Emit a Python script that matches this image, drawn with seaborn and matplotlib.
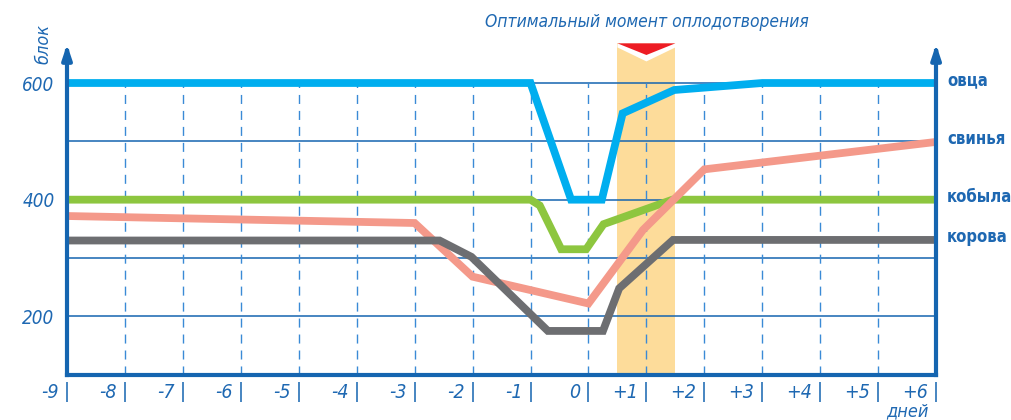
import matplotlib
matplotlib.use("Agg")

import matplotlib.pyplot as plt
import pandas as pd
import seaborn as sns
from matplotlib import font_manager

# ==========================================================
# Data
# ==========================================================

DAYS = [-9, -8, -7, -6, -5, -4, -3, -2, -1, 0, 1, 2, 3, 4, 5, 6]
DAY_LABELS = ["-9", "-8", "-7", "-6", "-5", "-4", "-3", "-2", "-1", "0",
              "+1", "+2", "+3", "+4", "+5", "+6"]

Y_TICKS = [200, 300, 400, 500, 600]
Y_LABELS = ["200", "", "400", "", "600"]

SHEEP_X = [-9, -1.0, -0.3, 0.23, 0.59, 1.48, 3.0, 6]
SHEEP_Y = [600, 600, 400, 400, 548, 588, 600, 600]

PIG_X = [-9, -3.0, -2.0, 0.0, 0.94, 2.0, 6]
PIG_Y = [372, 360, 268, 222, 348, 452, 499]

MARE_X = [-9, -1.0, -0.84, -0.47, -0.04, 0.26, 1.45, 6]
MARE_Y = [400, 400, 390, 315, 315, 358, 400, 400]

COW_X = [-9, -2.57, -2.02, -0.7, 0.25, 0.53, 1.46, 6]
COW_Y = [330, 330, 302, 175, 175, 248, 331, 331]

ANIMALS = ["овца", "свинья", "кобыла", "корова"]
DRAW_ORDER = ["кобыла", "свинья", "корова", "овца"]

PALETTE = {
    "овца": "#00aeef",
    "свинья": "#f4998a",
    "кобыла": "#8dc63f",
    "корова": "#6d6e71",
}

BAND = [0.5, 1.5]
BAND_TOP = 668

TITLE = "Оптимальный момент оплодотворения"
Y_NAME = "блок"
X_NAME = "дней"

Y_MIN = 100
Y_MAX = 670
GRID_TOP = 600

AXIS_BLUE = "#1565b0"
TEXT_BLUE = "#1e68b2"

# ==========================================================
# Fonts
# ==========================================================

sns.set_style("white")

names = {f.name for f in font_manager.fontManager.ttflist}
if "Liberation Sans Narrow" in names:
    FONT = "Liberation Sans Narrow"
elif "DejaVu Sans Condensed" in names:
    FONT = "DejaVu Sans Condensed"
else:
    FONT = "DejaVu Sans"

plt.rcParams["font.family"] = [FONT, "DejaVu Sans"]
plt.rcParams["font.stretch"] = "condensed"

# ==========================================================
# Build table
# ==========================================================

frames = []
for name, xs, ys in [("овца", SHEEP_X, SHEEP_Y),
                     ("свинья", PIG_X, PIG_Y),
                     ("кобыла", MARE_X, MARE_Y),
                     ("корова", COW_X, COW_Y)]:
    frames.append(pd.DataFrame({"day": xs, "value": ys, "animal": name}))
df = pd.concat(frames, ignore_index=True)

# ==========================================================
# Plot
# ==========================================================

fig = plt.figure(figsize=(10.11, 4.2), dpi=100)
ax = fig.add_axes([0.0663, 0.1079, 0.8596, 0.7917])

ax.set_xlim(DAYS[0], DAYS[-1])
ax.set_ylim(Y_MIN, Y_MAX)

# fertilisation window
ax.fill_between(BAND, Y_MIN, BAND_TOP, color="#fddc9a", lw=0,
                zorder=0.2, clip_on=False)
ax.fill([BAND[0], BAND[1], BAND[1], sum(BAND) / 2, BAND[0]],
        [BAND_TOP, BAND_TOP, 661, 637, 661],
        color="white", lw=0, zorder=4, clip_on=False)
ax.fill([BAND[0], BAND[1], sum(BAND) / 2],
        [BAND_TOP, BAND_TOP, 648],
        color="#ed1c24", lw=0, zorder=4.1, clip_on=False)

# grid
ax.set_axisbelow(True)
ax.set_yticks(Y_TICKS)
ax.set_yticklabels(Y_LABELS)
ax.grid(axis="y", color=AXIS_BLUE, linewidth=1.1)
ax.grid(axis="x", visible=False)
ax.vlines(DAYS[1:-1], Y_MIN, GRID_TOP, colors="#3a8ad6", linewidth=1.0,
          linestyles=(0, (6.5, 5)), zorder=0.6)

# series
n_before = len(ax.lines)
sns.lineplot(
    data=df, x="day", y="value", hue="animal",
    hue_order=DRAW_ORDER, palette=PALETTE,
    estimator=None, sort=False, linewidth=5.6,
    legend=False, ax=ax, zorder=3
)
for line in ax.lines[n_before:]:
    line.set_solid_joinstyle("miter")
    line.set_solid_capstyle("butt")

# spines
ax.spines["top"].set_visible(False)
for side in ["left", "right", "bottom"]:
    ax.spines[side].set_color(AXIS_BLUE)
    ax.spines[side].set_linewidth(3.0)
    ax.spines[side].set_zorder(5)
ax.spines["left"].set_bounds(Y_MIN, 655)
ax.spines["right"].set_bounds(Y_MIN, 655)

for xpos in [DAYS[0], DAYS[-1]]:
    ax.annotate(
        "", xy=(xpos, 666), xytext=(xpos, 650),
        arrowprops=dict(arrowstyle="-|>,head_length=0.6,head_width=0.2",
                        mutation_scale=14, color=AXIS_BLUE, lw=3,
                        shrinkA=0, shrinkB=0),
        annotation_clip=False, zorder=6
    )

# ticks
ax.set_xticks([])
ax.tick_params(axis="y", length=0, pad=9, labelsize=13.5,
               labelcolor=TEXT_BLUE)
for lab in ax.get_yticklabels():
    lab.set_fontstyle("italic")
ax.set_xlabel("")
ax.set_ylabel("")

ax.vlines(DAYS, -0.021, -0.081, transform=ax.get_xaxis_transform(),
          colors=AXIS_BLUE, linewidth=1.1, clip_on=False)
for day, label in zip(DAYS, DAY_LABELS):
    ax.annotate(label, xy=(day, 0), xycoords=("data", "axes fraction"),
                xytext=(-8, -18), textcoords="offset pixels",
                ha="right", va="center", fontsize=14, style="italic",
                color=TEXT_BLUE, annotation_clip=False)

# texts
ax.annotate(TITLE, xy=(sum(BAND) / 2, 1), xycoords=("data", "axes fraction"),
            xytext=(0, 20), textcoords="offset pixels",
            ha="center", va="center", fontsize=12.5, style="italic",
            color=TEXT_BLUE, annotation_clip=False)

ax.annotate(Y_NAME, xy=(0, 1), xycoords="axes fraction",
            xytext=(-24, -2), textcoords="offset pixels",
            ha="center", va="center", rotation=90, fontsize=13,
            style="italic", color=TEXT_BLUE)

ax.annotate(X_NAME, xy=(1, 0), xycoords="axes fraction",
            xytext=(-29, -37), textcoords="offset pixels",
            ha="center", va="center", fontsize=13,
            style="italic", color=TEXT_BLUE)

last_values = {
    "овца": SHEEP_Y[-1], "свинья": PIG_Y[-1],
    "кобыла": MARE_Y[-1], "корова": COW_Y[-1],
}
for name in ANIMALS:
    ax.annotate(name, xy=(DAYS[-1], last_values[name]),
                xytext=(11, 3), textcoords="offset pixels",
                ha="left", va="center", fontsize=12, fontweight="bold",
                color=TEXT_BLUE, annotation_clip=False)

fig.savefig("out.png", dpi=100)
